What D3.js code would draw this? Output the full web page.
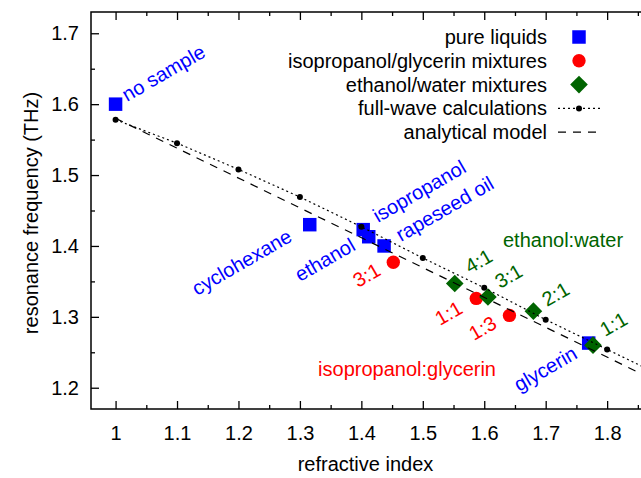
<!DOCTYPE html>
<html>
<head>
<meta charset="utf-8">
<script src="https://cdn.jsdelivr.net/npm/d3@7"></script>
<style>
  body { margin: 0; background: #fff; }
  svg { display: block; font-family: "Liberation Sans", Arial, sans-serif; }
  .axis text { font-size: 20px; fill: #000; }
  .axis line { stroke: #000; stroke-width: 1.3; }
  .axis path { display: none; }
</style>
</head>
<body>
<script>
// pure liquids
var pureNames = ["no sample", "cyclohexane", "ethanol", "isopropanol", "rapeseed oil", "glycerin"];
var pureN = [1.0, 1.316, 1.403, 1.412, 1.437, 1.77];
var pureF = [1.6, 1.43, 1.423, 1.413, 1.4, 1.263];

// isopropanol/glycerin mixtures
var isoGlyRatio = ["3:1", "1:1", "1:3"];
var isoGlyN = [1.452, 1.587, 1.641];
var isoGlyF = [1.377, 1.326, 1.302];

// ethanol/water mixtures
var ethWatRatio = ["4:1", "3:1", "2:1", "1:1"];
var ethWatN = [1.552, 1.606, 1.68, 1.777];
var ethWatF = [1.347, 1.328, 1.308, 1.26];

// full-wave calculations
var fullN = [1.0, 1.1, 1.2, 1.3, 1.4, 1.5, 1.6, 1.7, 1.8, 1.9];
var fullF = [1.578, 1.545, 1.508, 1.469, 1.427, 1.383, 1.341, 1.296, 1.254, 1.212];

// analytical model
var anaN = [1.0, 1.9];
var anaF = [1.58, 1.201];

var xTicks = [1, 1.1, 1.2, 1.3, 1.4, 1.5, 1.6, 1.7, 1.8];
var xMinor = [1.05, 1.15, 1.25, 1.35, 1.45, 1.55, 1.65, 1.75, 1.85];
var yTicks = [1.2, 1.3, 1.4, 1.5, 1.6, 1.7];
var yMinor = [1.25, 1.35, 1.45, 1.55, 1.65];

var W = 641, H = 478;
var pL = 91, pT = 12, pR = 644, pB = 409;
var blue = "#0000ff", red = "#ff0000", green = "#006400";

var x = d3.scaleLinear().domain([0.96, 1.86]).range([pL, pR]);
var y = d3.scaleLinear().domain([1.17, 1.73]).range([pB, pT]);

var svg = d3.select("body").append("svg").attr("width", W).attr("height", H);

svg.append("defs").append("clipPath").attr("id", "plot")
  .append("rect").attr("x", pL).attr("y", pT)
  .attr("width", pR - pL).attr("height", pB - pT);

// axes (ticks inward)
svg.append("g").attr("class", "axis")
  .attr("transform", "translate(0," + pB + ")")
  .call(d3.axisBottom(x).tickValues(xTicks).tickSize(-8).tickSizeOuter(0).tickPadding(17)
    .tickFormat(function (d) { return d3.format("")(d); }));
svg.append("g").attr("class", "axis")
  .attr("transform", "translate(0," + pB + ")")
  .call(d3.axisBottom(x).tickValues(xMinor).tickSize(-4).tickSizeOuter(0).tickFormat(""));
svg.append("g").attr("class", "axis")
  .attr("transform", "translate(0," + pT + ")")
  .call(d3.axisTop(x).tickValues(xTicks).tickSize(-8).tickSizeOuter(0).tickFormat(""));
svg.append("g").attr("class", "axis")
  .attr("transform", "translate(0," + pT + ")")
  .call(d3.axisTop(x).tickValues(xMinor).tickSize(-4).tickSizeOuter(0).tickFormat(""));
svg.append("g").attr("class", "axis")
  .attr("transform", "translate(" + pL + ",0)")
  .call(d3.axisLeft(y).tickValues(yTicks).tickSize(-8).tickSizeOuter(0).tickPadding(12)
    .tickFormat(d3.format(".1f")));
svg.append("g").attr("class", "axis")
  .attr("transform", "translate(" + pL + ",0)")
  .call(d3.axisLeft(y).tickValues(yMinor).tickSize(-4).tickSizeOuter(0).tickFormat(""));

svg.append("rect")
  .attr("x", pL).attr("y", pT)
  .attr("width", pR - pL).attr("height", pB - pT)
  .attr("fill", "none").attr("stroke", "#000").attr("stroke-width", 1.5);

// axis titles
svg.append("text")
  .attr("x", (pL + pR) / 2 - 2).attr("y", 471)
  .attr("text-anchor", "middle").attr("font-size", 20)
  .text("refractive index");
svg.append("text")
  .attr("transform", "translate(38," + 213 + ") rotate(-90)")
  .attr("text-anchor", "middle").attr("font-size", 20)
  .text("resonance frequency (THz)");

var plot = svg.append("g").attr("clip-path", "url(#plot)");

function zip(a, b) {
  return a.map(function (d, i) { return [d, b[i]]; });
}

var sq = d3.symbol().type(d3.symbolSquare).size(182);
var circ = d3.symbol().type(d3.symbolCircle).size(140);
var dia = d3.symbol().type(d3.symbolSquare).size(156);

plot.selectAll(".pure").data(zip(pureN, pureF)).enter().append("path")
  .attr("d", sq).attr("fill", blue)
  .attr("transform", function (d) { return "translate(" + x(d[0]) + "," + y(d[1]) + ")"; });
plot.selectAll(".iso").data(zip(isoGlyN, isoGlyF)).enter().append("path")
  .attr("d", circ).attr("fill", red)
  .attr("transform", function (d) { return "translate(" + x(d[0]) + "," + y(d[1]) + ")"; });
plot.selectAll(".eth").data(zip(ethWatN, ethWatF)).enter().append("path")
  .attr("d", dia).attr("fill", green)
  .attr("transform", function (d) { return "translate(" + x(d[0]) + "," + y(d[1]) + ") rotate(45)"; });

var line = d3.line()
  .x(function (d) { return x(d[0]); })
  .y(function (d) { return y(d[1]); });

plot.append("path").datum(zip(fullN, fullF))
  .attr("d", line).attr("fill", "none").attr("stroke", "#000")
  .attr("stroke-width", 1.2).attr("stroke-dasharray", "2,3");
plot.selectAll(".fw").data(zip(fullN, fullF)).enter().append("circle")
  .attr("cx", function (d) { return x(d[0]); })
  .attr("cy", function (d) { return y(d[1]); })
  .attr("r", 3).attr("fill", "#000");
plot.append("path").datum(zip(anaN, anaF))
  .attr("d", line).attr("fill", "none").attr("stroke", "#000")
  .attr("stroke-width", 1.2).attr("stroke-dasharray", "8,7");

// rotated point labels
var pureLab = [[127, 102], [197, 296], [300, 282], [378, 223], [401, 242], [519, 392]];
var isoLab = [[358, 288], [440, 326], [474, 341]];
var ethLab = [[470, 274], [500, 289], [547, 307], [605, 337]];

function labels(names, pos, color) {
  names.forEach(function (t, i) {
    svg.append("text")
      .attr("transform", "translate(" + pos[i][0] + "," + pos[i][1] + ") rotate(-30)")
      .attr("font-size", 20).attr("fill", color)
      .text(t);
  });
}
labels(pureNames, pureLab, blue);
labels(isoGlyRatio, isoLab, red);
labels(ethWatRatio, ethLab, green);

svg.append("text").attr("x", 503).attr("y", 247)
  .attr("font-size", 20).attr("fill", green).text("ethanol:water");
svg.append("text").attr("x", 496).attr("y", 376).attr("text-anchor", "end")
  .attr("font-size", 20).attr("fill", red).text("isopropanol:glycerin");

// legend
var legNames = ["pure liquids", "isopropanol/glycerin mixtures", "ethanol/water mixtures",
  "full-wave calculations", "analytical model"];
var leg = svg.append("g");
legNames.forEach(function (t, i) {
  var cy = 37 + i * 23.8;
  leg.append("text").attr("x", 547).attr("y", cy).attr("dy", "0.35em")
    .attr("text-anchor", "end").attr("font-size", 20).text(t);
  if (i === 0) leg.append("path").attr("d", sq).attr("fill", blue)
    .attr("transform", "translate(579," + cy + ")");
  if (i === 1) leg.append("path").attr("d", circ).attr("fill", red)
    .attr("transform", "translate(579," + cy + ")");
  if (i === 2) leg.append("path").attr("d", dia).attr("fill", green)
    .attr("transform", "translate(579," + cy + ") rotate(45)");
  if (i === 3) {
    leg.append("line").attr("x1", 558).attr("x2", 601).attr("y1", cy).attr("y2", cy)
      .attr("stroke", "#000").attr("stroke-width", 1.2).attr("stroke-dasharray", "2,3");
    leg.append("circle").attr("cx", 579).attr("cy", cy).attr("r", 3).attr("fill", "#000");
  }
  if (i === 4) leg.append("line").attr("x1", 558).attr("x2", 601).attr("y1", cy).attr("y2", cy)
    .attr("stroke", "#000").attr("stroke-width", 1.2).attr("stroke-dasharray", "8,7");
});
</script>
</body>
</html>
